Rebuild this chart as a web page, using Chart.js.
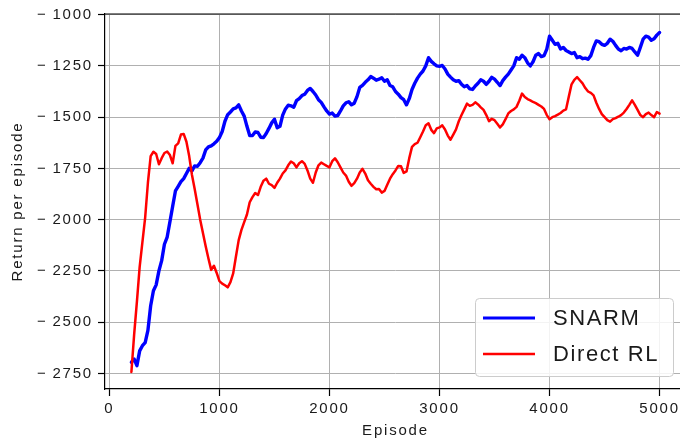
<!DOCTYPE html>
<html>
<head>
<meta charset="utf-8">
<script src="https://cdn.jsdelivr.net/npm/chart.js@4"></script>
<style>
html, body { margin: 0; padding: 0; background: #fff; overflow: hidden; }
#wrap { width: 680px; height: 442px; overflow: hidden; }
</style>
</head>
<body>
<div id="wrap"><canvas id="chart" width="690" height="442"></canvas></div>
<script>
// episode numbers (x values)
const episodes = [
  200, 225, 250, 275, 300, 325, 350, 375, 400, 425, 450, 475, 500, 525, 550, 575,
  600, 625, 650, 675, 700, 725, 750, 775, 800, 825, 850, 875, 900, 925, 950, 975,
  1000, 1025, 1050, 1075, 1100, 1125, 1150, 1175, 1200, 1225, 1250, 1275, 1300, 1325, 1350, 1375,
  1400, 1425, 1450, 1475, 1500, 1525, 1550, 1575, 1600, 1625, 1650, 1675, 1700, 1725, 1750, 1775,
  1800, 1825, 1850, 1875, 1900, 1925, 1950, 1975, 2000, 2025, 2050, 2075, 2100, 2125, 2150, 2175,
  2200, 2225, 2250, 2275, 2300, 2325, 2350, 2375, 2400, 2425, 2450, 2475, 2500, 2525, 2550, 2575,
  2600, 2625, 2650, 2675, 2700, 2725, 2750, 2775, 2800, 2825, 2850, 2875, 2900, 2925, 2950, 2975,
  3000, 3025, 3050, 3075, 3100, 3125, 3150, 3175, 3200, 3225, 3250, 3275, 3300, 3325, 3350, 3375,
  3400, 3425, 3450, 3475, 3500, 3525, 3550, 3575, 3600, 3625, 3650, 3675, 3700, 3725, 3750, 3775,
  3800, 3825, 3850, 3875, 3900, 3925, 3950, 3975, 4000, 4025, 4050, 4075, 4100, 4125, 4150, 4175,
  4200, 4225, 4250, 4275, 4300, 4325, 4350, 4375, 4400, 4425, 4450, 4475, 4500, 4525, 4550, 4575,
  4600, 4625, 4650, 4675, 4700, 4725, 4750, 4775, 4800, 4825, 4850, 4875, 4900, 4925, 4950, 4975, 5000
];

const snarm = [
  -2695, -2680, -2712, -2640, -2615, -2600, -2540, -2420, -2347, -2318, -2250, -2200, -2120, -2085, -2010, -1935,
  -1860, -1838, -1815, -1800, -1775, -1750, -1762, -1738, -1740, -1722, -1700, -1660, -1645, -1640, -1630, -1618,
  -1600, -1570, -1520, -1488, -1475, -1460, -1455, -1440, -1470, -1495, -1545, -1590, -1590, -1572, -1575, -1598,
  -1600, -1580, -1555, -1528, -1510, -1552, -1545, -1490, -1460, -1442, -1445, -1452, -1420, -1410, -1395, -1388,
  -1370, -1360, -1375, -1392, -1415, -1428, -1450, -1470, -1485, -1480, -1495, -1492, -1470, -1445, -1430, -1425,
  -1440, -1432, -1400, -1355, -1345, -1330, -1318, -1302, -1310, -1320, -1315, -1308, -1325, -1318, -1346, -1352,
  -1375, -1388, -1405, -1415, -1440, -1410, -1365, -1335, -1310, -1290, -1275, -1250, -1210, -1228, -1240, -1250,
  -1252, -1248, -1265, -1290, -1305, -1318, -1325, -1322, -1340, -1352, -1346, -1362, -1365, -1348, -1335, -1318,
  -1325, -1340, -1325, -1306, -1315, -1330, -1346, -1322, -1305, -1290, -1270, -1250, -1210, -1218, -1198, -1210,
  -1235, -1250, -1230, -1198, -1190, -1205, -1200, -1168, -1105, -1125, -1145, -1140, -1168, -1160, -1175, -1182,
  -1190, -1185, -1210, -1205, -1215, -1212, -1218, -1200, -1160, -1128, -1132, -1145, -1150, -1140, -1120, -1130,
  -1150, -1168, -1176, -1165, -1168, -1160, -1165, -1182, -1198, -1160, -1120, -1105, -1110, -1125, -1118, -1100, -1087
];

const directRL = [
  -2743, -2560, -2400, -2230, -2110, -1990, -1820, -1690, -1669, -1680, -1730, -1700, -1675, -1668, -1685, -1725,
  -1640, -1628, -1585, -1582, -1620, -1690, -1781, -1850, -1925, -2000, -2065, -2130, -2190, -2245, -2225, -2260,
  -2300, -2312, -2320, -2330, -2305, -2262, -2180, -2100, -2050, -2012, -1975, -1915, -1890, -1870, -1880, -1840,
  -1810, -1800, -1825, -1832, -1845, -1820, -1800, -1775, -1760, -1735, -1717, -1725, -1745, -1725, -1715, -1728,
  -1760, -1800, -1820, -1770, -1735, -1722, -1730, -1738, -1745, -1715, -1701, -1720, -1745, -1770, -1785, -1815,
  -1835, -1822, -1800, -1770, -1752, -1775, -1808, -1825, -1840, -1852, -1850, -1868, -1860, -1830, -1800, -1778,
  -1760, -1738, -1740, -1772, -1765, -1700, -1645, -1632, -1625, -1598, -1570, -1540, -1530, -1562, -1578, -1555,
  -1550, -1540, -1560, -1590, -1610, -1585, -1560, -1520, -1490, -1462, -1434, -1445, -1440, -1428, -1438, -1452,
  -1465, -1490, -1520, -1508, -1515, -1532, -1550, -1535, -1510, -1482, -1470, -1462, -1450, -1420, -1385, -1402,
  -1412, -1418, -1426, -1432, -1440, -1448, -1460, -1490, -1510, -1500, -1495, -1488, -1480, -1468, -1462, -1400,
  -1340, -1318, -1305, -1320, -1335, -1358, -1375, -1382, -1394, -1430, -1460, -1485, -1500, -1515, -1522, -1510,
  -1505, -1498, -1490, -1478, -1460, -1440, -1418, -1440, -1465, -1490, -1500, -1485, -1478, -1490, -1500, -1475, -1483
];

const xTicks = [0, 1000, 2000, 3000, 4000, 5000];
const yTicks = [-2750, -2500, -2250, -2000, -1750, -1500, -1250, -1000];

const seriesNames = ['SNARM', 'Direct RL'];
const seriesColors = ['#0000ff', '#ff0000'];

const textColor = '#1a1a1a';
const fontFamily = '"Liberation Sans", Arial, sans-serif';

const minusLabel = v => (v < 0 ? '\u2212\u2009' + Math.abs(v) : String(v));

// letter spacing for all chart text + top spine + legend box
const decor = {
  id: 'decor',
  beforeDraw(chart) {
    chart.ctx.letterSpacing = '1.8px';
  },
  afterDraw(chart) {
    const {ctx, chartArea} = chart;
    ctx.save();
    // top spine
    ctx.strokeStyle = '#000';
    ctx.lineWidth = 1.2;
    ctx.beginPath();
    ctx.moveTo(chartArea.left, chartArea.top);
    ctx.lineTo(chartArea.right, chartArea.top);
    ctx.stroke();

    // legend
    const bx = 475, by = 298, bw = 198, bh = 78;
    ctx.fillStyle = 'rgba(255,255,255,0.85)';
    ctx.strokeStyle = '#cccccc';
    ctx.lineWidth = 1;
    ctx.beginPath();
    ctx.roundRect(bx + 0.5, by + 0.5, bw, bh, 4);
    ctx.fill();
    ctx.stroke();

    const rows = [318, 354];
    const widths = [3.2, 2.4];
    ctx.font = '22px ' + fontFamily;
    ctx.letterSpacing = '1.6px';
    ctx.textBaseline = 'middle';
    ctx.textAlign = 'left';
    seriesNames.forEach((name, i) => {
      ctx.strokeStyle = seriesColors[i];
      ctx.lineWidth = widths[i];
      ctx.beginPath();
      ctx.moveTo(483, rows[i]);
      ctx.lineTo(535, rows[i]);
      ctx.stroke();
      ctx.fillStyle = textColor;
      ctx.fillText(name, 553, rows[i] + 1);
    });
    ctx.restore();
  }
};

const ctx = document.getElementById('chart');

const datasets = [
  {
    label: seriesNames[0],
    data: episodes.map((e, i) => ({x: e, y: snarm[i]})),
    borderColor: seriesColors[0],
    borderWidth: 3.4,
    order: 1
  },
  {
    label: seriesNames[1],
    data: episodes.map((e, i) => ({x: e, y: directRL[i]})),
    borderColor: seriesColors[1],
    borderWidth: 2.5,
    order: 0
  }
];

const myChart = new Chart(ctx, {
  type: 'line',
  data: {datasets: datasets},
  options: {
    responsive: false,
    animation: false,
    events: [],
    layout: {padding: {top: 12, right: 4, left: 0, bottom: 0}},
    elements: {
      point: {radius: 0},
      line: {tension: 0, fill: false, borderJoinStyle: 'round', borderCapStyle: 'round'}
    },
    plugins: {
      legend: {display: false},
      tooltip: {enabled: false}
    },
    scales: {
      x: {
        type: 'linear',
        min: -40,
        max: 5240,
        afterFit: s => { s.height = 53; },
        afterBuildTicks: s => { s.ticks = xTicks.map(v => ({value: v})); },
        ticks: {
          autoSkip: false,
          maxRotation: 0,
          padding: 4,
          color: textColor,
          font: {family: fontFamily, size: 15},
          callback: v => String(v)
        },
        grid: {color: '#b0b0b0', lineWidth: 1, tickLength: 7, tickColor: '#000', tickWidth: 1.2},
        border: {color: '#000', width: 1.2},
        title: {
          display: true,
          text: 'Episode',
          color: textColor,
          font: {family: fontFamily, size: 15},
          padding: {top: 0, bottom: 2}
        }
      },
      y: {
        min: -2826,
        max: -997,
        afterFit: s => { s.width = 105; },
        afterBuildTicks: s => { s.ticks = yTicks.map(v => ({value: v})); },
        ticks: {
          autoSkip: false,
          padding: 5,
          color: textColor,
          font: {family: fontFamily, size: 15},
          callback: v => minusLabel(v)
        },
        grid: {color: '#b0b0b0', lineWidth: 1, tickLength: 7, tickColor: '#000', tickWidth: 1.2},
        border: {color: '#000', width: 1.2},
        title: {
          display: true,
          text: 'Return per episode',
          color: textColor,
          font: {family: fontFamily, size: 15},
          padding: {top: 9, bottom: 0}
        }
      }
    }
  },
  plugins: [decor]
});
</script>
</body>
</html>
